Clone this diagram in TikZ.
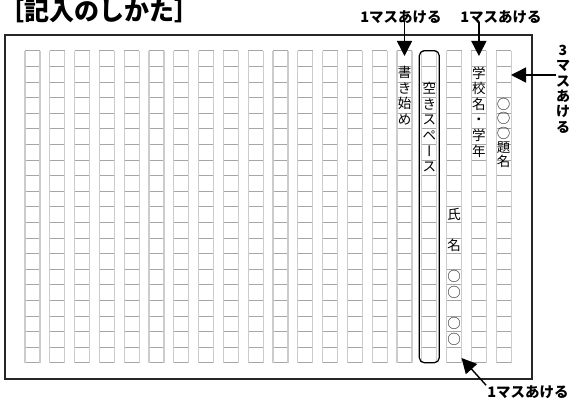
\documentclass[tikz,border=0pt]{standalone}
\usepackage{fontspec}
\newfontfamily\jp{Noto Sans CJK JP}
\usetikzlibrary{arrows.meta}

\def\gx{25}   % left of the first column
\def\gy{50.7} % top of the first row
\def\dx{24.8} % column pitch
\def\dy{15.6} % row pitch
\def\cw{15}   % cell width

\tikzset{waku/.style = {draw=black!85, line width=2.2pt},
         tate/.style = {draw=gray!40, line width=1.3pt},
         yoko/.style = {draw=gray!70, line width=0.7pt},
         moji/.style = {font=\jp\fontsize{13.5}{13.5}\selectfont, inner sep=0,
                        text height=11.8pt, text depth=1.7pt},
         setsumei/.style = {font=\jp\bfseries\fontsize{14.5}{14.5}\selectfont, inner sep=0},
         tatesetsumei/.style = {font=\jp\bfseries\fontsize{14}{15.4}\selectfont, inner sep=0,
                                align=center},
         taitoru/.style = {font=\jp\bfseries\fontsize{25}{25}\selectfont, inner sep=0},
         yajirushi/.style = {line width=1.4pt, -{Triangle[length=15pt,width=15pt]}}
        }

\begin{document}
\begin{tikzpicture}[x=1pt, y=-1pt]
  \useasboundingbox (0,0) rectangle (571,401);

  \node[taitoru, anchor=base west] (taitoru) at (-1,21) {［記入のしかた］};

  \draw[waku] (5,35) rectangle (532,379);

  % the grid, 20 columns of 20 cells
  \foreach \i in {0,...,19} {
    \foreach \j in {0,...,20}
      \draw[yoko] ({\gx+\i*\dx}, {\gy+\j*\dy}) -- ++(\cw,0);
    \draw[tate] ({\gx+\i*\dx}, \gy) -- ++(0,{20*\dy})
                ({\gx+\i*\dx+\cw}, \gy) -- ++(0,{20*\dy});
  }

  \node[draw, line width=1.2pt, rounded corners=5pt, minimum width=20pt,
        minimum height=312pt, inner sep=0] (akispace)
        at ({\gx+16*\dx+\cw/2}, {\gy+10*\dy}) {};

  % text in the columns
  \foreach \c [count=\k from 1] in {書,き,始,め}
    \node[moji] (kaki\k) at ({\gx+15*\dx+\cw/2}, {\gy+(\k+0.5)*\dy-1.5}) {\c};
  \foreach \c/\r [count=\k from 2] in {空/0,き/0,ス/0,ペ/0,ー/-90,ス/0}
    \node[moji, rotate=\r] (aki\k) at ({\gx+16*\dx+\cw/2}, {\gy+(\k+0.5)*\dy-1}) {\c};
  \foreach \c/\r in {氏/10,名/12,○/14,○/15,○/17,○/18}
    \node[moji] (shimei\r) at ({\gx+17*\dx+\cw/2}, {\gy+(\r+0.5)*\dy}) {\c};
  \foreach \c [count=\k from 1] in {学,校,名,・,学,年}
    \node[moji] (gakko\k) at ({\gx+18*\dx+\cw/2}, {\gy+(\k+0.5)*\dy-1}) {\c};
  \foreach \c [count=\k from 0] in {○,○,○,題,名}
    \node[moji] (daimei\k) at ({\gx+19*\dx+\cw/2}, {\gy+3.5*\dy+\k*14.1-0.5}) {\c};

  % labels and arrows
  \node[setsumei] (ake1) at (401,17) {1マスあける};
  \node[setsumei] (ake2) at (501,17) {1マスあける};
  \node[tatesetsumei] (ake3) at (563,89) {3\\マ\\ス\\あ\\け\\る};
  \node[setsumei] (ake4) at (528,392) {1マスあける};

  \coordinate (yaA) at ({\gx+15*\dx+\cw/2}, 56);
  \coordinate (yaB) at ({\gx+18*\dx+\cw/2}, 56);
  \coordinate (yaC) at (511,75);
  \coordinate (yaD) at (461.5,358);

  \draw[yajirushi] ([yshift=2pt]ake1.south -| yaA) -- (yaA);
  \draw[yajirushi] ([yshift=2pt]ake2.south -| yaB) -- (yaB);
  \draw[yajirushi] (ake3.west |- yaC) -- (yaC);
  \draw[yajirushi] ([xshift=-1pt]ake4.north west) -- (yaD);
\end{tikzpicture}
\end{document}
